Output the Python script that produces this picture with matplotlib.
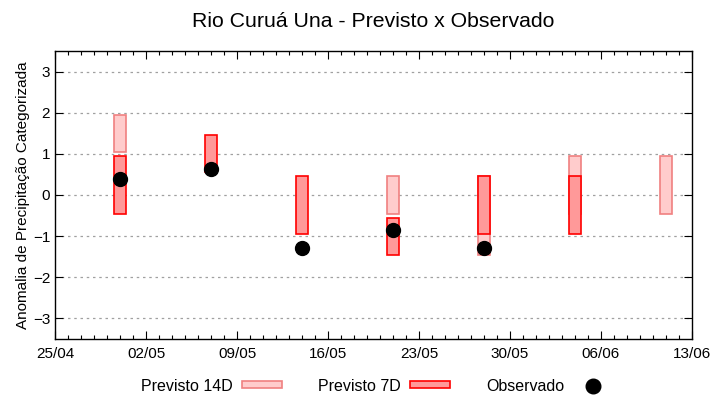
import matplotlib
matplotlib.use("Agg")
import matplotlib.pyplot as plt
import matplotlib.dates as mdates
from matplotlib.patches import Patch
from matplotlib.lines import Line2D
import numpy as np
import datetime as dt

plt.rcParams['font.family'] = ['Liberation Sans', 'DejaVu Sans']

# datas das previsoes (semanais)
datas = ["2024-04-30", "2024-05-07", "2024-05-14", "2024-05-21",
         "2024-05-28", "2024-06-04", "2024-06-11"]

# faixas previstas (limite inferior / superior da categoria)
prev14_inf = [1.05, np.nan, np.nan, -0.45, -1.45, -0.45, -0.45]
prev14_sup = [1.95, np.nan, np.nan, 0.45, 0.45, 0.95, 0.95]
prev7_inf = [-0.45, 0.55, -0.95, -1.45, -0.95, -0.95, np.nan]
prev7_sup = [0.95, 1.45, 0.45, -0.55, 0.45, 0.45, np.nan]

# anomalia observada
observado = [0.38, 0.62, -1.30, -0.85, -1.30, np.nan, np.nan]

x = mdates.date2num([dt.datetime.strptime(d, "%Y-%m-%d") for d in datas])
p14_lo = np.array(prev14_inf)
p14_hi = np.array(prev14_sup)
p7_lo = np.array(prev7_inf)
p7_hi = np.array(prev7_sup)

cor14_fill, cor14_edge = '#ffcccc', '#f08080'
cor7_fill, cor7_edge = '#ff9999', '#ff0000'

fig = plt.figure(figsize=(7.2, 4.0), dpi=100)
ax = fig.add_axes([0.0764, 0.1525, 0.8847, 0.72])

largura = 0.9
ax.bar(x, p14_hi - p14_lo, bottom=p14_lo, width=largura,
       color=cor14_fill, edgecolor=cor14_edge, linewidth=1.2, zorder=2)
ax.bar(x, p7_hi - p7_lo, bottom=p7_lo, width=largura,
       color=cor7_fill, edgecolor=cor7_edge, linewidth=1.2, zorder=3)
ax.plot(x, observado, 'o', color='black', markersize=10, zorder=4)

# eixos
inicio = mdates.date2num(dt.datetime(2024, 4, 25))
fim = mdates.date2num(dt.datetime(2024, 6, 13))
ax.set_xlim(inicio, fim)
ax.set_ylim(-3.5, 3.5)
ax.set_xticks(np.arange(inicio, fim + 1, 7))
ax.set_xticks(np.arange(inicio, fim + 1, 1), minor=True)
ax.xaxis.set_major_formatter(mdates.DateFormatter('%d/%m'))
ax.set_yticks([-3, -2, -1, 0, 1, 2, 3])

ax.tick_params(axis='both', which='both', direction='in', top=True, right=True,
               labelsize=11, colors='black')
ax.tick_params(which='major', length=6, width=0.8)
ax.tick_params(which='minor', length=3, width=0.8)
ax.tick_params(axis='x', pad=6)
for s in ax.spines.values():
    s.set_linewidth(1.0)

ax.yaxis.grid(True, linestyle=(0, (2, 3)), color='#a0a0a0', linewidth=0.9)
ax.set_axisbelow(True)

ax.set_ylabel('Anomalia de Precipitação Categorizada', fontsize=11, labelpad=2)
fig.suptitle('Rio Curuá Una - Previsto x Observado', fontsize=15.3, x=0.519, y=0.97)

# legenda
handles = [
    Patch(facecolor=cor14_fill, edgecolor=cor14_edge, linewidth=1.2),
    Patch(facecolor=cor7_fill, edgecolor=cor7_edge, linewidth=1.2),
    Line2D([], [], marker='o', linestyle='none', color='black', markersize=10.5),
]
labels = ['Previsto 14D', 'Previsto 7D', 'Observado']
fig.legend(handles, labels, ncol=3, loc='lower center', bbox_to_anchor=(0.524, -0.02),
           frameon=False, markerfirst=False, fontsize=11.5, handlelength=2.5,
           handleheight=0.3, handletextpad=0.55, columnspacing=2.3)

fig.savefig('out.png', dpi=100)
